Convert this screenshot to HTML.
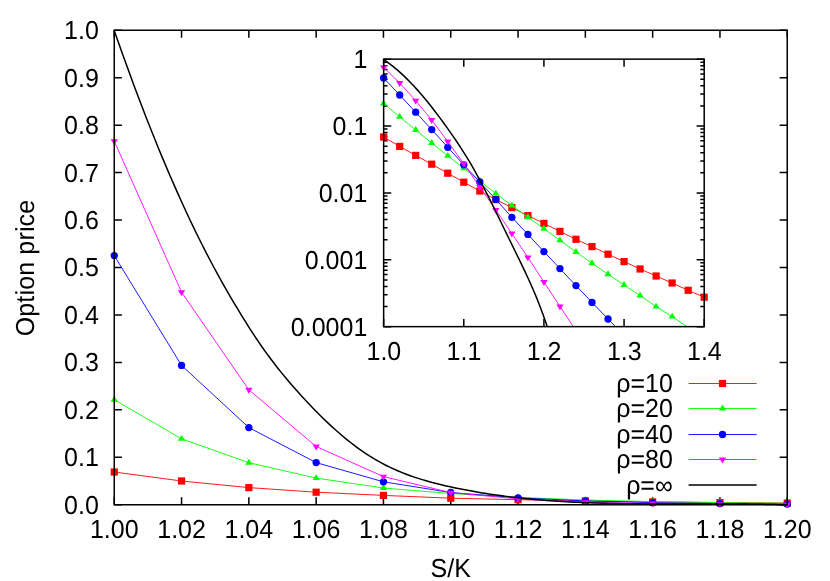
<!DOCTYPE html>
<html><head><meta charset="utf-8"><title>Option price</title>
<style>html,body{margin:0;padding:0;background:#fff;}body{width:830px;height:581px;position:relative;overflow:hidden;font-family:"Liberation Sans",sans-serif;}</style>
</head><body>
<svg width="830" height="581" viewBox="0 0 830 581" style="position:absolute;left:0;top:0;will-change:transform;font-family:'Liberation Sans',sans-serif;font-size:25px" text-rendering="geometricPrecision">
<rect x="0" y="0" width="830" height="581" fill="#fff"/>
<defs>
<clipPath id="ci"><rect x="379.65" y="55.15" width="328.55000000000007" height="271.5"/></clipPath>
</defs>
<path d="M114.25 504.75v-7.6M114.25 30.25v7.6M181.55 504.75v-7.6M181.55 30.25v7.6M248.85 504.75v-7.6M248.85 30.25v7.6M316.15 504.75v-7.6M316.15 30.25v7.6M383.45 504.75v-7.6M383.45 30.25v7.6M450.75 504.75v-7.6M450.75 30.25v7.6M518.05 504.75v-7.6M518.05 30.25v7.6M585.35 504.75v-7.6M585.35 30.25v7.6M652.65 504.75v-7.6M652.65 30.25v7.6M719.95 504.75v-7.6M719.95 30.25v7.6M787.25 504.75v-7.6M787.25 30.25v7.6M114.25 504.75h7.6M787.25 504.75h-7.6M114.25 457.30h7.6M787.25 457.30h-7.6M114.25 409.85h7.6M787.25 409.85h-7.6M114.25 362.40h7.6M787.25 362.40h-7.6M114.25 314.95h7.6M787.25 314.95h-7.6M114.25 267.50h7.6M787.25 267.50h-7.6M114.25 220.05h7.6M787.25 220.05h-7.6M114.25 172.60h7.6M787.25 172.60h-7.6M114.25 125.15h7.6M787.25 125.15h-7.6M114.25 77.70h7.6M787.25 77.70h-7.6M114.25 30.25h7.6M787.25 30.25h-7.6" stroke="#000" stroke-width="1.5" fill="none"/>
<path d="M114.25 472.00L181.55 481.00L248.85 487.60L316.15 492.20L383.45 495.40L450.75 498.20L518.05 499.70L585.35 501.00L652.65 501.90L719.95 502.55L787.25 503.10" fill="none" stroke="#ff0000" stroke-width="0.9" stroke-linejoin="round" />
<rect x="110.65" y="468.40" width="7.2" height="7.2" fill="#ff0000"/>
<rect x="177.95" y="477.40" width="7.2" height="7.2" fill="#ff0000"/>
<rect x="245.25" y="484.00" width="7.2" height="7.2" fill="#ff0000"/>
<rect x="312.55" y="488.60" width="7.2" height="7.2" fill="#ff0000"/>
<rect x="379.85" y="491.80" width="7.2" height="7.2" fill="#ff0000"/>
<rect x="447.15" y="494.60" width="7.2" height="7.2" fill="#ff0000"/>
<rect x="514.45" y="496.10" width="7.2" height="7.2" fill="#ff0000"/>
<rect x="581.75" y="497.40" width="7.2" height="7.2" fill="#ff0000"/>
<rect x="649.05" y="498.30" width="7.2" height="7.2" fill="#ff0000"/>
<rect x="716.35" y="498.95" width="7.2" height="7.2" fill="#ff0000"/>
<rect x="783.65" y="499.50" width="7.2" height="7.2" fill="#ff0000"/>
<path d="M114.25 399.70L181.55 438.80L248.85 462.70L316.15 478.10L383.45 488.00L450.75 493.50L518.05 497.40L585.35 500.00L652.65 501.60L719.95 502.60L787.25 503.30" fill="none" stroke="#00ff00" stroke-width="0.9" stroke-linejoin="round" />
<path d="M110.60 401.65L117.90 401.65L114.25 395.80Z" fill="#00ff00"/>
<path d="M177.90 440.75L185.20 440.75L181.55 434.90Z" fill="#00ff00"/>
<path d="M245.20 464.65L252.50 464.65L248.85 458.80Z" fill="#00ff00"/>
<path d="M312.50 480.05L319.80 480.05L316.15 474.20Z" fill="#00ff00"/>
<path d="M379.80 489.95L387.10 489.95L383.45 484.10Z" fill="#00ff00"/>
<path d="M447.10 495.45L454.40 495.45L450.75 489.60Z" fill="#00ff00"/>
<path d="M514.40 499.35L521.70 499.35L518.05 493.50Z" fill="#00ff00"/>
<path d="M581.70 501.95L589.00 501.95L585.35 496.10Z" fill="#00ff00"/>
<path d="M649.00 503.55L656.30 503.55L652.65 497.70Z" fill="#00ff00"/>
<path d="M716.30 504.55L723.60 504.55L719.95 498.70Z" fill="#00ff00"/>
<path d="M783.60 505.25L790.90 505.25L787.25 499.40Z" fill="#00ff00"/>
<path d="M114.25 255.60L181.55 365.40L248.85 427.60L316.15 462.60L383.45 481.80L450.75 492.50L518.05 497.80L585.35 500.90L652.65 502.70L719.95 503.60L787.25 504.10" fill="none" stroke="#0000ff" stroke-width="0.9" stroke-linejoin="round" />
<circle cx="114.25" cy="255.60" r="3.65" fill="#0000ff"/>
<circle cx="181.55" cy="365.40" r="3.65" fill="#0000ff"/>
<circle cx="248.85" cy="427.60" r="3.65" fill="#0000ff"/>
<circle cx="316.15" cy="462.60" r="3.65" fill="#0000ff"/>
<circle cx="383.45" cy="481.80" r="3.65" fill="#0000ff"/>
<circle cx="450.75" cy="492.50" r="3.65" fill="#0000ff"/>
<circle cx="518.05" cy="497.80" r="3.65" fill="#0000ff"/>
<circle cx="585.35" cy="500.90" r="3.65" fill="#0000ff"/>
<circle cx="652.65" cy="502.70" r="3.65" fill="#0000ff"/>
<circle cx="719.95" cy="503.60" r="3.65" fill="#0000ff"/>
<circle cx="787.25" cy="504.10" r="3.65" fill="#0000ff"/>
<path d="M114.25 141.20L181.55 292.20L248.85 389.80L316.15 446.50L383.45 476.60L450.75 492.60L518.05 498.90L585.35 502.10L652.65 503.50L719.95 504.20L787.25 504.50" fill="none" stroke="#ff00ff" stroke-width="0.9" stroke-linejoin="round" />
<path d="M110.60 139.25L117.90 139.25L114.25 145.10Z" fill="#ff00ff"/>
<path d="M177.90 290.25L185.20 290.25L181.55 296.10Z" fill="#ff00ff"/>
<path d="M245.20 387.85L252.50 387.85L248.85 393.70Z" fill="#ff00ff"/>
<path d="M312.50 444.55L319.80 444.55L316.15 450.40Z" fill="#ff00ff"/>
<path d="M379.80 474.65L387.10 474.65L383.45 480.50Z" fill="#ff00ff"/>
<path d="M447.10 490.65L454.40 490.65L450.75 496.50Z" fill="#ff00ff"/>
<path d="M514.40 496.95L521.70 496.95L518.05 502.80Z" fill="#ff00ff"/>
<path d="M581.70 500.15L589.00 500.15L585.35 506.00Z" fill="#ff00ff"/>
<path d="M649.00 501.55L656.30 501.55L652.65 507.40Z" fill="#ff00ff"/>
<path d="M716.30 502.25L723.60 502.25L719.95 508.10Z" fill="#ff00ff"/>
<path d="M783.60 502.55L790.90 502.55L787.25 508.40Z" fill="#ff00ff"/>
<path d="M114.25 30.65L118.25 41.93L122.25 53.23L126.25 64.37L130.25 75.35L134.25 86.17L138.25 96.83L142.25 107.33L146.25 117.66L150.25 127.83L154.25 137.83L158.25 147.68L162.25 157.35L166.25 166.87L170.25 176.22L174.25 185.40L178.25 194.41L182.25 203.26L186.25 211.95L190.25 220.46L194.25 228.81L198.25 236.99L202.25 245.00L206.25 252.84L210.25 260.51L214.25 268.01L218.25 275.36L222.25 282.55L226.25 289.59L230.25 296.51L234.25 303.29L238.25 309.96L242.25 316.53L246.25 322.97L250.25 329.29L254.25 335.45L258.25 341.44L262.25 347.25L266.25 352.86L270.25 358.30L274.25 363.57L278.25 368.68L282.25 373.65L286.25 378.49L290.25 383.20L294.25 387.81L298.25 392.31L302.25 396.73L306.25 401.06L310.25 405.30L314.25 409.46L318.25 413.52L322.25 417.48L326.25 421.34L330.25 425.10L334.25 428.76L338.25 432.31L342.25 435.74L346.25 439.07L350.25 442.27L354.25 445.36L358.25 448.32L362.25 451.16L366.25 453.86L370.25 456.44L374.25 458.88L378.25 461.20L382.25 463.39L386.25 465.46L390.25 467.42L394.25 469.27L398.25 471.02L402.25 472.67L406.25 474.23L410.25 475.70L414.25 477.09L418.25 478.41L422.25 479.65L426.25 480.83L430.25 481.94L434.25 483.00L438.25 484.01L442.25 484.98L446.25 485.90L450.25 486.79L454.25 487.65L458.25 488.49L462.25 489.29L466.25 490.06L470.25 490.81L474.25 491.53L478.25 492.22L482.25 492.89L486.25 493.53L490.25 494.15L494.25 494.74L498.25 495.31L502.25 495.86L506.25 496.38L510.25 496.88L514.25 497.35L518.25 497.81L522.25 498.24L526.25 498.65L530.25 499.05L534.25 499.42L538.25 499.77L542.25 500.11L546.25 500.43L550.25 500.73L554.25 501.01L558.25 501.28L562.25 501.52L566.25 501.76L570.25 501.98L574.25 502.18L578.25 502.37L582.25 502.55L586.25 502.71L590.25 502.86L594.25 503.00L598.25 503.12L602.25 503.24L606.25 503.34L610.25 503.44L614.25 503.52L618.25 503.60L622.25 503.66L626.25 503.72L630.25 503.77L634.25 503.82L638.25 503.85L642.25 503.88L646.25 503.91L650.25 503.93L654.25 503.94L658.25 503.95L662.25 503.96L666.25 503.96L670.25 503.96L674.25 503.96L678.25 503.95L682.25 503.95L686.25 503.94L690.25 503.94L694.25 503.93L698.25 503.93L702.25 503.92L706.25 503.92L710.25 503.92L714.25 503.92L718.25 503.93L722.25 503.94L726.25 503.95L730.25 503.97L734.25 503.99L738.25 504.02L742.25 504.05L746.25 504.09L750.25 504.14L754.25 504.20L758.25 504.26L762.25 504.34L766.25 504.42L770.25 504.51L774.25 504.61L778.25 504.73L782.25 504.75L786.25 504.75L787.25 504.75" fill="none" stroke="#000" stroke-width="1.5" stroke-linejoin="round" />
<path d="M688.6 383.5H756.6" stroke="#ff0000" stroke-width="0.9"/>
<rect x="718.90" y="379.90" width="7.2" height="7.2" fill="#ff0000"/>
<path d="M688.6 408.5H756.6" stroke="#00ff00" stroke-width="0.9"/>
<path d="M718.85 410.45L726.15 410.45L722.50 404.60Z" fill="#00ff00"/>
<path d="M688.6 434.5H756.6" stroke="#0000ff" stroke-width="0.9"/>
<circle cx="722.50" cy="434.50" r="3.65" fill="#0000ff"/>
<path d="M688.6 459.5H756.6" stroke="#ff00ff" stroke-width="0.9"/>
<path d="M718.85 457.55L726.15 457.55L722.50 463.40Z" fill="#ff00ff"/>
<path d="M688.6 485.0H756.6" stroke="#000" stroke-width="1.55"/>
<text transform="translate(672.80 392.45) scale(1 1.04)" text-anchor="end">ρ=10</text>
<text transform="translate(672.80 417.45) scale(1 1.04)" text-anchor="end">ρ=20</text>
<text transform="translate(672.80 443.45) scale(1 1.04)" text-anchor="end">ρ=40</text>
<text transform="translate(672.80 468.45) scale(1 1.04)" text-anchor="end">ρ=80</text>
<text transform="translate(672.80 493.95) scale(1 1.04)" text-anchor="end">ρ=∞</text>
<rect x="114.25" y="30.25" width="673.0" height="474.5" fill="none" stroke="#000" stroke-width="1.5"/>
<text transform="translate(114.25 538.00) scale(1 1.04)" text-anchor="middle">1.00</text>
<text transform="translate(181.55 538.00) scale(1 1.04)" text-anchor="middle">1.02</text>
<text transform="translate(248.85 538.00) scale(1 1.04)" text-anchor="middle">1.04</text>
<text transform="translate(316.15 538.00) scale(1 1.04)" text-anchor="middle">1.06</text>
<text transform="translate(383.45 538.00) scale(1 1.04)" text-anchor="middle">1.08</text>
<text transform="translate(450.75 538.00) scale(1 1.04)" text-anchor="middle">1.10</text>
<text transform="translate(518.05 538.00) scale(1 1.04)" text-anchor="middle">1.12</text>
<text transform="translate(585.35 538.00) scale(1 1.04)" text-anchor="middle">1.14</text>
<text transform="translate(652.65 538.00) scale(1 1.04)" text-anchor="middle">1.16</text>
<text transform="translate(719.95 538.00) scale(1 1.04)" text-anchor="middle">1.18</text>
<text transform="translate(787.25 538.00) scale(1 1.04)" text-anchor="middle">1.20</text>
<text transform="translate(98.80 513.70) scale(1 1.04)" text-anchor="end">0.0</text>
<text transform="translate(98.80 466.25) scale(1 1.04)" text-anchor="end">0.1</text>
<text transform="translate(98.80 418.80) scale(1 1.04)" text-anchor="end">0.2</text>
<text transform="translate(98.80 371.35) scale(1 1.04)" text-anchor="end">0.3</text>
<text transform="translate(98.80 323.90) scale(1 1.04)" text-anchor="end">0.4</text>
<text transform="translate(98.80 276.45) scale(1 1.04)" text-anchor="end">0.5</text>
<text transform="translate(98.80 229.00) scale(1 1.04)" text-anchor="end">0.6</text>
<text transform="translate(98.80 181.55) scale(1 1.04)" text-anchor="end">0.7</text>
<text transform="translate(98.80 134.10) scale(1 1.04)" text-anchor="end">0.8</text>
<text transform="translate(98.80 86.65) scale(1 1.04)" text-anchor="end">0.9</text>
<text transform="translate(98.80 39.20) scale(1 1.04)" text-anchor="end">1.0</text>
<text transform="translate(450.70 576.50) scale(1 1.04)" text-anchor="middle">S/K</text>
<text transform="translate(34.30 268.00) rotate(-90) scale(1 1.04)" text-anchor="middle" letter-spacing="0.15">Option price</text>
<path d="M383.65 326.65v-7.6M383.65 59.15v7.6M463.79 326.65v-7.6M463.79 59.15v7.6M543.92 326.65v-7.6M543.92 59.15v7.6M624.06 326.65v-7.6M624.06 59.15v7.6M704.20 326.65v-7.6M704.20 59.15v7.6M383.65 59.15h7.6M704.2 59.15h-7.6M383.65 105.89h3.9M704.2 105.89h-3.9M383.65 94.12h3.9M704.2 94.12h-3.9M383.65 85.76h3.9M704.2 85.76h-3.9M383.65 79.28h3.9M704.2 79.28h-3.9M383.65 73.99h3.9M704.2 73.99h-3.9M383.65 69.51h3.9M704.2 69.51h-3.9M383.65 65.63h3.9M704.2 65.63h-3.9M383.65 62.21h3.9M704.2 62.21h-3.9M383.65 126.03h7.6M704.2 126.03h-7.6M383.65 172.77h3.9M704.2 172.77h-3.9M383.65 160.99h3.9M704.2 160.99h-3.9M383.65 152.64h3.9M704.2 152.64h-3.9M383.65 146.16h3.9M704.2 146.16h-3.9M383.65 140.86h3.9M704.2 140.86h-3.9M383.65 136.38h3.9M704.2 136.38h-3.9M383.65 132.51h3.9M704.2 132.51h-3.9M383.65 129.09h3.9M704.2 129.09h-3.9M383.65 192.90h7.6M704.2 192.90h-7.6M383.65 239.64h3.9M704.2 239.64h-3.9M383.65 227.87h3.9M704.2 227.87h-3.9M383.65 219.51h3.9M704.2 219.51h-3.9M383.65 213.03h3.9M704.2 213.03h-3.9M383.65 207.74h3.9M704.2 207.74h-3.9M383.65 203.26h3.9M704.2 203.26h-3.9M383.65 199.38h3.9M704.2 199.38h-3.9M383.65 195.96h3.9M704.2 195.96h-3.9M383.65 259.77h7.6M704.2 259.77h-7.6M383.65 306.52h3.9M704.2 306.52h-3.9M383.65 294.74h3.9M704.2 294.74h-3.9M383.65 286.39h3.9M704.2 286.39h-3.9M383.65 279.91h3.9M704.2 279.91h-3.9M383.65 274.61h3.9M704.2 274.61h-3.9M383.65 270.13h3.9M704.2 270.13h-3.9M383.65 266.26h3.9M704.2 266.26h-3.9M383.65 262.84h3.9M704.2 262.84h-3.9M383.65 326.65h7.6M704.2 326.65h-7.6" stroke="#000" stroke-width="1.5" fill="none"/>
<g clip-path="url(#ci)">
<path d="M383.65 137.00L399.68 146.40L415.70 155.40L431.73 164.20L447.76 173.20L463.79 182.20L479.81 191.00L495.84 199.60L511.87 207.60L527.90 215.60L543.92 223.40L559.95 231.40L575.98 239.30L592.01 246.60L608.04 254.20L624.06 261.60L640.09 269.00L656.12 276.00L672.14 283.00L688.17 290.30L704.20 297.20" fill="none" stroke="#ff0000" stroke-width="0.9" stroke-linejoin="round" />
<rect x="380.05" y="133.40" width="7.2" height="7.2" fill="#ff0000"/>
<rect x="396.08" y="142.80" width="7.2" height="7.2" fill="#ff0000"/>
<rect x="412.10" y="151.80" width="7.2" height="7.2" fill="#ff0000"/>
<rect x="428.13" y="160.60" width="7.2" height="7.2" fill="#ff0000"/>
<rect x="444.16" y="169.60" width="7.2" height="7.2" fill="#ff0000"/>
<rect x="460.19" y="178.60" width="7.2" height="7.2" fill="#ff0000"/>
<rect x="476.21" y="187.40" width="7.2" height="7.2" fill="#ff0000"/>
<rect x="492.24" y="196.00" width="7.2" height="7.2" fill="#ff0000"/>
<rect x="508.27" y="204.00" width="7.2" height="7.2" fill="#ff0000"/>
<rect x="524.30" y="212.00" width="7.2" height="7.2" fill="#ff0000"/>
<rect x="540.32" y="219.80" width="7.2" height="7.2" fill="#ff0000"/>
<rect x="556.35" y="227.80" width="7.2" height="7.2" fill="#ff0000"/>
<rect x="572.38" y="235.70" width="7.2" height="7.2" fill="#ff0000"/>
<rect x="588.41" y="243.00" width="7.2" height="7.2" fill="#ff0000"/>
<rect x="604.44" y="250.60" width="7.2" height="7.2" fill="#ff0000"/>
<rect x="620.46" y="258.00" width="7.2" height="7.2" fill="#ff0000"/>
<rect x="636.49" y="265.40" width="7.2" height="7.2" fill="#ff0000"/>
<rect x="652.52" y="272.40" width="7.2" height="7.2" fill="#ff0000"/>
<rect x="668.54" y="279.40" width="7.2" height="7.2" fill="#ff0000"/>
<rect x="684.57" y="286.70" width="7.2" height="7.2" fill="#ff0000"/>
<rect x="700.60" y="293.60" width="7.2" height="7.2" fill="#ff0000"/>
<path d="M383.65 103.60L399.68 116.80L415.70 130.00L431.73 143.00L447.76 155.80L463.79 168.20L479.81 180.90L495.84 193.60L511.87 205.60L527.90 217.10L543.92 228.70L559.95 240.30L575.98 252.00L592.01 263.20L608.04 274.20L624.06 285.00L640.09 295.60L656.12 306.60L672.14 316.60L687.06 326.65" fill="none" stroke="#00ff00" stroke-width="0.9" stroke-linejoin="round" />
<path d="M380.00 105.55L387.30 105.55L383.65 99.70Z" fill="#00ff00"/>
<path d="M396.03 118.75L403.33 118.75L399.68 112.90Z" fill="#00ff00"/>
<path d="M412.06 131.95L419.35 131.95L415.70 126.10Z" fill="#00ff00"/>
<path d="M428.08 144.95L435.38 144.95L431.73 139.10Z" fill="#00ff00"/>
<path d="M444.11 157.75L451.41 157.75L447.76 151.90Z" fill="#00ff00"/>
<path d="M460.14 170.15L467.44 170.15L463.79 164.30Z" fill="#00ff00"/>
<path d="M476.17 182.85L483.46 182.85L479.81 177.00Z" fill="#00ff00"/>
<path d="M492.19 195.55L499.49 195.55L495.84 189.70Z" fill="#00ff00"/>
<path d="M508.22 207.55L515.52 207.55L511.87 201.70Z" fill="#00ff00"/>
<path d="M524.25 219.05L531.55 219.05L527.90 213.20Z" fill="#00ff00"/>
<path d="M540.27 230.65L547.57 230.65L543.92 224.80Z" fill="#00ff00"/>
<path d="M556.30 242.25L563.60 242.25L559.95 236.40Z" fill="#00ff00"/>
<path d="M572.33 253.95L579.63 253.95L575.98 248.10Z" fill="#00ff00"/>
<path d="M588.36 265.15L595.66 265.15L592.01 259.30Z" fill="#00ff00"/>
<path d="M604.39 276.15L611.69 276.15L608.04 270.30Z" fill="#00ff00"/>
<path d="M620.41 286.95L627.71 286.95L624.06 281.10Z" fill="#00ff00"/>
<path d="M636.44 297.55L643.74 297.55L640.09 291.70Z" fill="#00ff00"/>
<path d="M652.47 308.55L659.77 308.55L656.12 302.70Z" fill="#00ff00"/>
<path d="M668.50 318.55L675.79 318.55L672.14 312.70Z" fill="#00ff00"/>
<path d="M383.65 78.00L399.68 95.00L415.70 112.20L431.73 129.60L447.76 147.30L463.79 164.80L479.81 182.00L495.84 199.40L511.87 217.30L527.90 234.40L543.92 251.60L559.95 268.60L575.98 285.60L592.01 302.40L608.04 319.00L615.51 326.65" fill="none" stroke="#0000ff" stroke-width="0.9" stroke-linejoin="round" />
<circle cx="383.65" cy="78.00" r="3.65" fill="#0000ff"/>
<circle cx="399.68" cy="95.00" r="3.65" fill="#0000ff"/>
<circle cx="415.70" cy="112.20" r="3.65" fill="#0000ff"/>
<circle cx="431.73" cy="129.60" r="3.65" fill="#0000ff"/>
<circle cx="447.76" cy="147.30" r="3.65" fill="#0000ff"/>
<circle cx="463.79" cy="164.80" r="3.65" fill="#0000ff"/>
<circle cx="479.81" cy="182.00" r="3.65" fill="#0000ff"/>
<circle cx="495.84" cy="199.40" r="3.65" fill="#0000ff"/>
<circle cx="511.87" cy="217.30" r="3.65" fill="#0000ff"/>
<circle cx="527.90" cy="234.40" r="3.65" fill="#0000ff"/>
<circle cx="543.92" cy="251.60" r="3.65" fill="#0000ff"/>
<circle cx="559.95" cy="268.60" r="3.65" fill="#0000ff"/>
<circle cx="575.98" cy="285.60" r="3.65" fill="#0000ff"/>
<circle cx="592.01" cy="302.40" r="3.65" fill="#0000ff"/>
<circle cx="608.04" cy="319.00" r="3.65" fill="#0000ff"/>
<path d="M383.65 67.40L399.68 83.00L415.70 100.60L431.73 120.00L447.76 141.50L463.79 163.80L479.81 187.00L495.84 210.00L511.87 233.50L527.90 257.40L543.92 282.00L559.95 306.40L573.25 326.65" fill="none" stroke="#ff00ff" stroke-width="0.9" stroke-linejoin="round" />
<path d="M380.00 65.45L387.30 65.45L383.65 71.30Z" fill="#ff00ff"/>
<path d="M396.03 81.05L403.33 81.05L399.68 86.90Z" fill="#ff00ff"/>
<path d="M412.06 98.65L419.35 98.65L415.70 104.50Z" fill="#ff00ff"/>
<path d="M428.08 118.05L435.38 118.05L431.73 123.90Z" fill="#ff00ff"/>
<path d="M444.11 139.55L451.41 139.55L447.76 145.40Z" fill="#ff00ff"/>
<path d="M460.14 161.85L467.44 161.85L463.79 167.70Z" fill="#ff00ff"/>
<path d="M476.17 185.05L483.46 185.05L479.81 190.90Z" fill="#ff00ff"/>
<path d="M492.19 208.05L499.49 208.05L495.84 213.90Z" fill="#ff00ff"/>
<path d="M508.22 231.55L515.52 231.55L511.87 237.40Z" fill="#ff00ff"/>
<path d="M524.25 255.45L531.55 255.45L527.90 261.30Z" fill="#ff00ff"/>
<path d="M540.27 280.05L547.57 280.05L543.92 285.90Z" fill="#ff00ff"/>
<path d="M556.30 304.45L563.60 304.45L559.95 310.30Z" fill="#ff00ff"/>
<path d="M383.65 59.55L386.65 61.68L389.65 63.83L392.65 66.13L395.65 68.56L398.65 71.13L401.65 73.83L404.65 76.65L407.65 79.60L410.65 82.66L413.65 85.84L416.65 89.12L419.65 92.51L422.65 96.01L425.65 99.60L428.65 103.29L431.65 107.07L434.65 110.93L437.65 114.88L440.65 118.89L443.65 122.98L446.65 127.13L449.65 131.34L452.65 135.63L455.65 140.00L458.65 144.48L461.65 149.08L464.65 153.81L467.65 158.69L470.65 163.74L473.65 168.95L476.65 174.31L479.65 179.83L482.65 185.49L485.65 191.28L488.65 197.19L491.65 203.18L494.65 209.26L497.65 215.38L500.65 221.54L503.65 227.71L506.65 233.88L509.65 240.03L512.65 246.15L515.65 252.27L518.65 258.40L521.65 264.58L524.65 270.84L527.65 277.26L530.65 283.86L533.65 290.73L536.65 297.91L539.65 305.46L542.65 313.44L545.65 321.92L547.20 326.51" fill="none" stroke="#000" stroke-width="1.5" stroke-linejoin="round" />
</g>
<rect x="383.65" y="59.15" width="320.55000000000007" height="267.5" fill="none" stroke="#000" stroke-width="1.5"/>
<text transform="translate(367.30 68.10) scale(1 1.04)" text-anchor="end">1</text>
<text transform="translate(367.30 134.97) scale(1 1.04)" text-anchor="end">0.1</text>
<text transform="translate(367.30 201.85) scale(1 1.04)" text-anchor="end">0.01</text>
<text transform="translate(367.30 268.72) scale(1 1.04)" text-anchor="end">0.001</text>
<text transform="translate(367.30 335.60) scale(1 1.04)" text-anchor="end">0.0001</text>
<text transform="translate(383.85 360.00) scale(1 1.04)" text-anchor="middle">1.0</text>
<text transform="translate(463.99 360.00) scale(1 1.04)" text-anchor="middle">1.1</text>
<text transform="translate(544.12 360.00) scale(1 1.04)" text-anchor="middle">1.2</text>
<text transform="translate(624.26 360.00) scale(1 1.04)" text-anchor="middle">1.3</text>
<text transform="translate(704.40 360.00) scale(1 1.04)" text-anchor="middle">1.4</text>
</svg>
</body></html>
